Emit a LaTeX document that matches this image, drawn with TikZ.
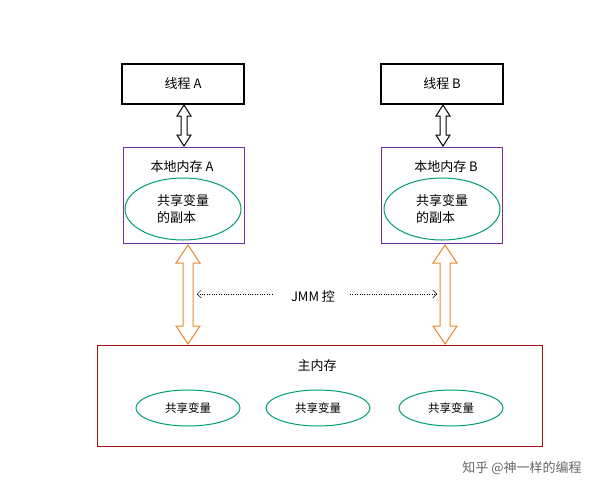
\documentclass[tikz,border=0pt]{standalone}
\usepackage{fontspec}
\setmainfont{Noto Sans CJK SC}
\usetikzlibrary{shapes.geometric,arrows.meta}
\definecolor{pur}{RGB}{112,48,160}
\definecolor{grn}{RGB}{0,160,100}
\definecolor{drd}{RGB}{160,20,20}
\definecolor{org}{RGB}{230,140,50}
\newcommand\mydarr[7]{% x, ytop, ybot, headhalf, shafthalf, headlen, color
 \filldraw[draw=#7,fill=white,line width=1pt] (#1,#2) -- (#1+#4,#2+#6) -- (#1+#5,#2+#6) -- (#1+#5,#3-#6) -- (#1+#4,#3-#6) -- (#1,#3) -- (#1-#4,#3-#6) -- (#1-#5,#3-#6) -- (#1-#5,#2+#6) -- (#1-#4,#2+#6) -- cycle;}
\tikzset{
 f/.style={font=\fontsize{13}{17}\selectfont},
 fs/.style={font=\fontsize{11.5}{14}\selectfont},
 thr/.style={f,draw=black,line width=1.2pt,minimum width=122pt,minimum height=40pt},
 loc/.style={draw=pur,line width=0.8pt,minimum width=121pt,minimum height=96pt},
 big/.style={f,ellipse,draw=grn,line width=1pt,minimum width=116pt,minimum height=62pt,align=left},
 sml/.style={fs,ellipse,draw=grn,line width=1pt,minimum width=104pt,minimum height=36pt},
}
\begin{document}
\begin{tikzpicture}[x=1pt,y=-1pt]
\useasboundingbox (0,0) rectangle (610,498);
\node[thr] (ta) at (183,84) {线程 A};
\node[thr] (tb) at (442,84) {线程 B};
\node[loc] (la) at (183.5,195) {};
\node[loc] (lb) at (442,195) {};
\node[f] (lat) at (182,167) {本地内存 A};
\node[f] (lbt) at (446,167) {本地内存 B};
\node[big] (ea) at (183,209) {共享变量\\的副本};
\node[big] (eb) at (442,209) {共享变量\\的副本};
\node[draw=drd,line width=1pt,minimum width=445pt,minimum height=101pt] (mm) at (319.5,395.5) {};
\node[f] (mt) at (317,366) {主内存};
\node[sml] (s1) at (188,408) {共享变量};
\node[sml] (s2) at (318,408) {共享变量};
\node[sml] (s3) at (451,408) {共享变量};
\mydarr{184}{105}{146}{7}{3}{11}{black}
\mydarr{443}{105}{146}{7}{3}{11}{black}
\mydarr{188}{245}{344}{12}{5}{18}{org}
\mydarr{445}{245}{344}{12}{5}{18}{org}
\node[f] (jmm) at (313,296) {JMM 控};
\coordinate (l0) at (272,294);
\coordinate (l1) at (197,294);
\coordinate (r0) at (350,294);
\coordinate (r1) at (437,294);
\draw[dotted,-{Straight Barb[length=4pt]}] (l0) -- (l1);
\draw[dotted,-{Straight Barb[length=4pt]}] (r0) -- (r1);
\node[f,text=gray!80!black] (wm) at (522,468) {知乎 @神一样的编程};
\end{tikzpicture}
\end{document}
